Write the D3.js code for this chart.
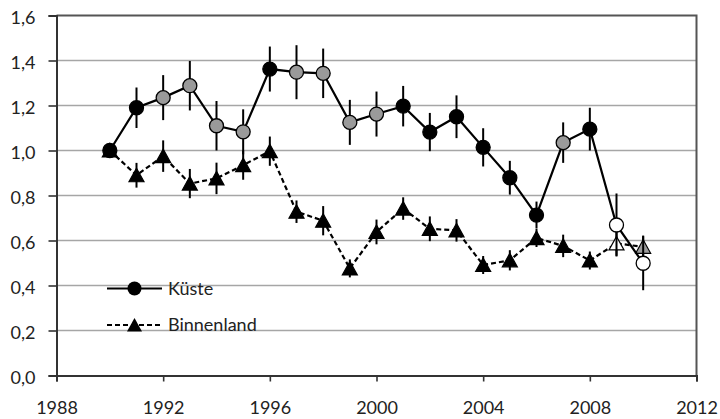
<!DOCTYPE html>
<html><head><meta charset="utf-8">
<script src="https://cdn.jsdelivr.net/npm/d3@7"></script>
<style>body{margin:0;background:#fff}svg{display:block}</style>
</head><body>
<svg id="c" width="720" height="419"></svg>
<script>
// ---- data ----
const years = [1990,1991,1992,1993,1994,1995,1996,1997,1998,1999,2000,2001,2002,2003,2004,2005,2006,2007,2008,2009,2010];
const kuesteValues = [1.00,1.19,1.235,1.288,1.11,1.083,1.362,1.348,1.343,1.125,1.162,1.197,1.082,1.15,1.014,0.879,0.713,1.035,1.095,0.669,0.499];
const kuesteErrors = [0,0.09,0.10,0.11,0.11,0.10,0.10,0.12,0.11,0.10,0.10,0.09,0.085,0.095,0.085,0.075,0.06,0.09,0.095,0.14,0.12];
const kuesteType   = ['b','b','g','g','g','g','b','g','g','g','g','b','b','b','b','b','b','g','b','w','w'];
const binnenValues = [1.00,0.89,0.975,0.853,0.876,0.935,0.997,0.728,0.688,0.476,0.638,0.742,0.652,0.645,0.491,0.512,0.611,0.576,0.511,0.587,0.572];
const binnenErrors = [0,0.055,0.07,0.065,0.07,0.065,0.065,0.05,0.065,0.04,0.055,0.05,0.055,0.05,0.04,0.045,0.04,0.05,0.04,0.055,0.05];
const binnenType   = ['b','b','b','b','b','b','b','b','b','b','b','b','b','b','b','b','b','b','b','w','g'];
const yTicks = [0,0.2,0.4,0.6,0.8,1.0,1.2,1.4,1.6];
const xTicks = [1988,1992,1996,2000,2004,2008,2012];
const seriesNames = ['Küste','Binnenland'];

// ---- drawing ----
const svg = d3.select('#c');
const FONT = 'Lato, "Open Sans", sans-serif';
const x = d3.scaleLinear().domain([1988,2012]).range([56.5,696.5]);
const y = d3.scaleLinear().domain([0,1.6]).range([375.5,15.5]);
const fillOf = t => t==='b' ? '#000' : t==='g' ? '#9a9a9a' : '#fff';

// gridlines
svg.append('g').selectAll('line').data(yTicks.filter(v=>v>0 && v<1.6)).join('line')
  .attr('x1',x(1988)).attr('x2',x(2012)).attr('y1',d=>y(d)).attr('y2',d=>y(d))
  .attr('stroke','#a6a6a6').attr('stroke-width',1.6);

// border top/right
svg.append('path')
  .attr('d',`M${x(1988)},${y(1.6)}H${x(2012)}V${y(0)}`)
  .attr('fill','none').attr('stroke','#555').attr('stroke-width',2);

// axes
const yAxis = svg.append('g').attr('transform',`translate(${x(1988)},0)`)
  .call(d3.axisLeft(y).tickValues(yTicks).tickSize(8).tickPadding(13)
    .tickFormat(d=>d.toFixed(1).replace('.',',')));
const xAxis = svg.append('g').attr('transform',`translate(0,${y(0)})`)
  .call(d3.axisBottom(x).tickValues(xTicks).tickSize(6).tickPadding(20).tickFormat(d3.format('d')));
[yAxis,xAxis].forEach(a=>{
  a.select('.domain').attr('stroke','#333').attr('stroke-width',2);
  a.selectAll('.tick line').attr('stroke','#333').attr('stroke-width',1.6);
  a.selectAll('text').attr('font-family',FONT).attr('font-size',18).attr('fill','#222');
});
yAxis.selectAll('text').attr('dy','0.45em');
svg.selectAll('.domain').filter(function(){return true;});

const tri = 'M0,-7L7.5,6.5L-7.5,6.5Z';

function drawSeries(vals, errs, types, dashed, marker){
  const pts = years.map((yr,i)=>({yr, v:vals[i], e:errs[i], t:types[i]}));
  const g = svg.append('g');
  g.append('path').datum(pts)
    .attr('d', d3.line().x(d=>x(d.yr)).y(d=>y(d.v)))
    .attr('fill','none').attr('stroke','#000').attr('stroke-width',2.2)
    .attr('stroke-dasharray', dashed ? '5,3' : null);
  g.selectAll('line.err').data(pts.filter(d=>d.e>0)).join('line').attr('class','err')
    .attr('x1',d=>x(d.yr)).attr('x2',d=>x(d.yr))
    .attr('y1',d=>y(d.v+d.e)).attr('y2',d=>y(d.v-d.e))
    .attr('stroke','#000').attr('stroke-width',2);
  if(marker==='circle'){
    g.selectAll('circle').data(pts).join('circle')
      .attr('cx',d=>x(d.yr)).attr('cy',d=>y(d.v)).attr('r',7)
      .attr('fill',d=>fillOf(d.t)).attr('stroke','#000').attr('stroke-width',1.3);
  } else {
    g.selectAll('path.m').data(pts).join('path').attr('class','m')
      .attr('d',tri).attr('transform',d=>`translate(${x(d.yr)},${y(d.v)})`)
      .attr('fill',d=>fillOf(d.t)).attr('stroke','#000').attr('stroke-width',1.2);
  }
}
drawSeries(binnenValues, binnenErrors, binnenType, true, 'tri');
drawSeries(kuesteValues, kuesteErrors, kuesteType, false, 'circle');

// legend
const leg = svg.append('g');
const legY = [288.5, 325];
seriesNames.forEach((name,i)=>{
  leg.append('line').attr('x1',107).attr('x2',162).attr('y1',legY[i]).attr('y2',legY[i])
    .attr('stroke','#000').attr('stroke-width',2.2).attr('stroke-dasharray', i ? '5,3' : null);
  if(i===0) leg.append('circle').attr('cx',134.5).attr('cy',legY[i]).attr('r',7).attr('fill','#000');
  else leg.append('path').attr('d',tri).attr('transform',`translate(134.5,${legY[i]})`).attr('fill','#000');
  leg.append('text').attr('x',168).attr('y',legY[i]).attr('dy','0.36em')
    .attr('font-family',FONT).attr('font-size',18).attr('fill','#222').text(name);
});
</script>
</body></html>
